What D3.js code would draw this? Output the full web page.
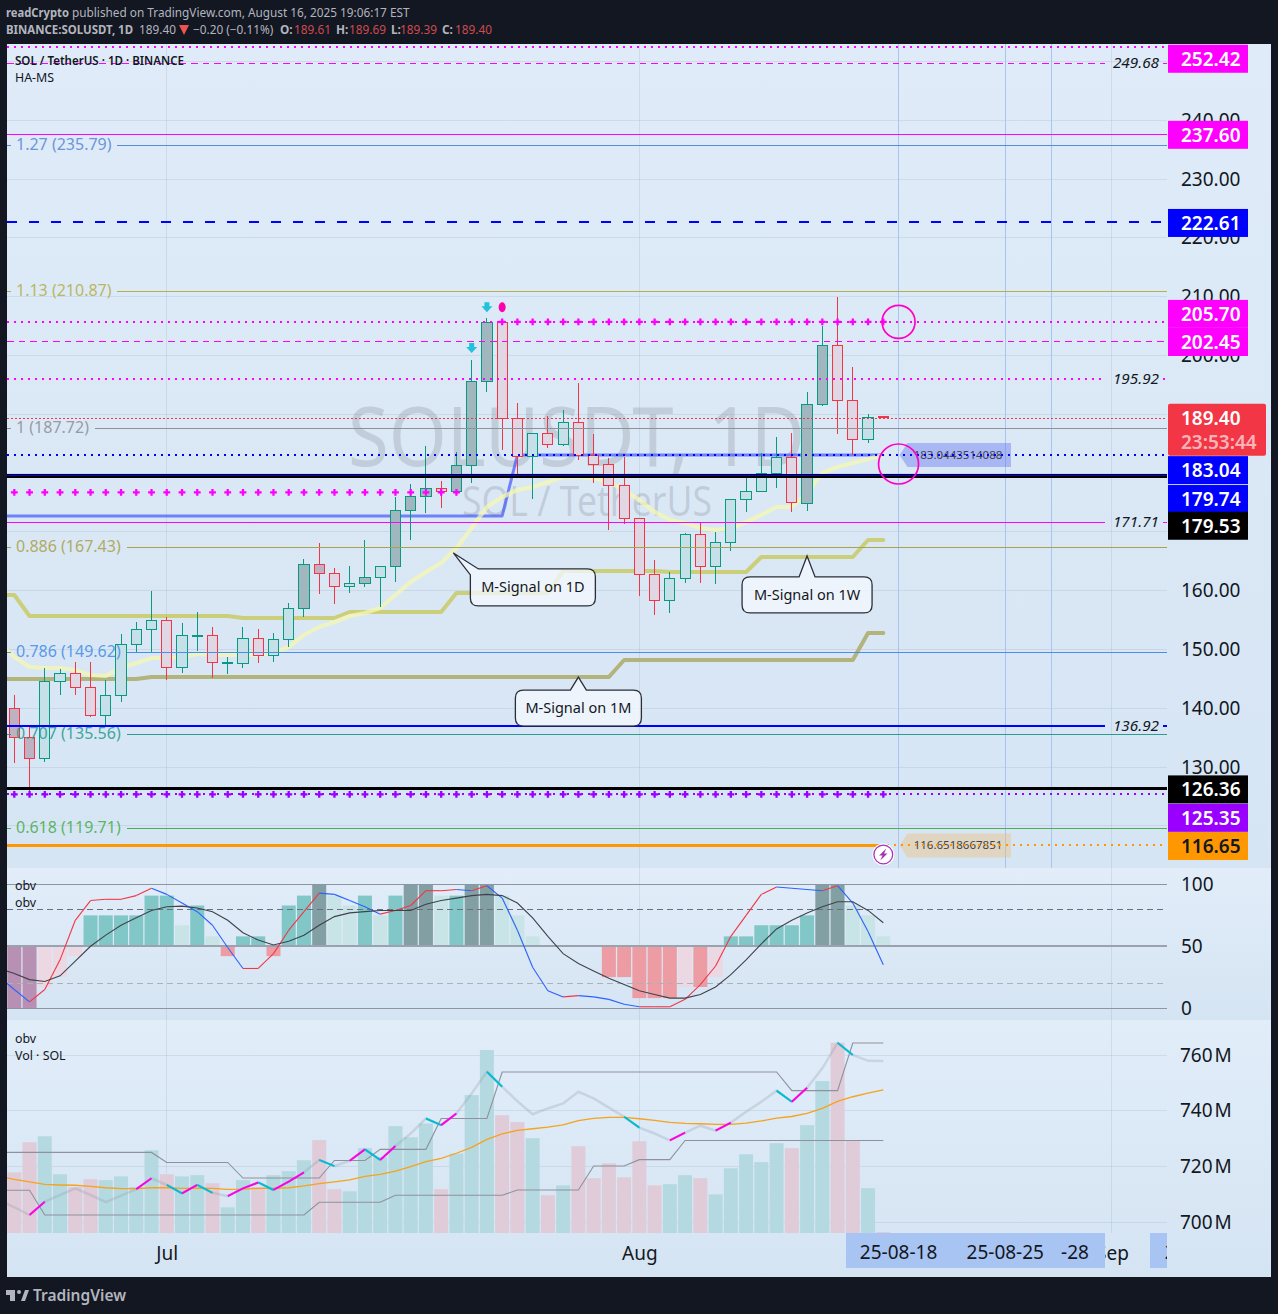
<!DOCTYPE html>
<html>
<head>
<meta charset="utf-8">
<script src="https://cdnjs.cloudflare.com/ajax/libs/d3/7.8.5/d3.min.js"></script>
<style>
html, body { margin: 0; padding: 0; background: #131722; }
svg { display: block; font-family: "Noto Sans", sans-serif; }
</style>
</head>
<body>
<div id="chart"></div>
<script>
// candle data, index 0 = first visible day
var opens = [140.03,135.10,131.53,144.46,145.82,143.44,138.84,142.08,150.75,153.30,154.83,146.84,152.28,152.28,147.69,147.52,151.77,148.88,151.60,157.04,164.36,162.83,160.62,161.13,162.15,164.02,173.54,175.92,177.28,176.77,181.36,195.63,205.68,189.35,182.89,186.80,184.93,188.67,183.06,181.53,177.79,172.18,162.66,158.40,161.98,169.46,164.02,168.10,175.41,176.77,180.00,182.72,174.73,191.73,201.60,192.41,185.78,189.61];
var highs = [142.25,137.14,146.84,146.67,147.86,147.86,144.80,152.62,154.66,159.93,155.51,154.49,156.36,153.81,148.71,153.81,153.47,152.79,157.89,165.38,168.11,163.85,164.19,168.61,164.19,175.92,178.13,184.59,178.64,183.57,199.20,206.36,205.68,191.90,186.80,189.69,190.71,195.30,186.63,182.55,182.72,172.18,165.21,163.17,169.80,171.50,169.97,175.41,179.66,183.40,186.12,186.80,193.77,205.00,209.93,198.04,190.03,189.69];
var lows = [130.68,125.24,130.85,142.25,142.25,138.50,137.14,141.05,149.39,149.56,144.80,145.99,149.73,145.14,145.82,146.84,147.69,147.86,150.41,155.51,159.43,157.72,159.60,160.62,157.21,161.47,168.61,173.20,174.05,176.43,178.30,193.77,183.90,179.15,175.58,184.25,184.59,182.21,178.30,170.30,171.33,159.09,155.85,156.19,161.30,161.30,161.13,166.74,173.37,176.77,177.45,173.37,173.54,191.39,186.63,183.06,185.10,189.39];
var closes = [135.10,131.53,144.46,145.82,143.44,138.84,142.08,150.75,153.30,154.83,146.84,152.28,152.28,147.69,147.69,151.77,148.88,151.60,157.04,164.36,162.83,160.62,161.13,162.15,164.02,173.54,175.92,177.28,176.77,181.36,195.63,205.68,189.35,182.89,186.80,184.93,188.67,183.06,181.53,177.79,172.18,162.66,158.40,161.98,169.46,164.02,168.10,175.41,176.77,180.00,182.72,174.90,191.73,201.60,192.41,185.78,189.52,189.40];
var heavyCandles = [0,1,19,20,23,25,26,27,29,30,31,52,53];

// M-Signal lines and the others below start one day before the first candle
var signal1D = [151.09,148.71,147.01,146.84,146.84,146.50,145.65,145.48,146.84,147.69,148.54,148.54,148.71,149.22,149.05,149.05,149.05,149.05,149.39,150.41,152.45,153.81,154.66,155.68,156.19,157.04,159.25,161.47,163.17,164.70,167.25,170.65,174.22,175.92,177.11,177.62,178.47,179.32,179.32,179.15,178.47,177.11,175.41,173.37,172.01,171.50,170.65,170.31,170.65,171.67,172.86,174.22,174.22,176.60,180.00,181.02,181.70,182.38,183.06];
var signal1W = [159.25,159.25,155.68,155.68,155.68,155.68,155.68,155.68,155.68,155.68,155.68,155.68,155.68,155.68,155.68,155.68,155.34,155.34,155.34,155.34,155.34,155.34,155.34,156.36,156.36,156.36,156.36,156.36,156.36,156.36,159.60,159.60,159.60,159.60,159.60,159.60,159.60,163.34,163.34,163.34,163.34,163.34,163.34,163.34,163.17,163.17,163.17,163.17,163.17,163.17,165.72,165.72,165.72,165.72,165.72,165.72,165.72,168.61,168.61];
var signal1M = [144.97,144.97,144.97,144.97,144.97,144.97,144.97,144.97,144.97,144.97,145.31,145.31,145.31,145.31,145.31,145.31,145.31,145.31,145.31,145.31,145.31,145.31,145.31,145.31,145.31,145.31,145.31,145.31,145.31,145.31,145.31,145.31,145.31,145.31,145.31,145.31,145.31,145.31,145.31,145.31,145.31,148.20,148.20,148.20,148.20,148.20,148.20,148.20,148.20,148.20,148.20,148.20,148.20,148.20,148.20,148.20,148.20,152.79,152.79];
var stepLine = [172.69,172.69,172.69,172.69,172.69,172.69,172.69,172.69,172.69,172.69,172.69,172.69,172.69,172.69,172.69,172.69,172.69,172.69,172.69,172.69,172.69,172.69,172.69,172.69,172.69,172.69,172.69,172.69,172.69,172.69,172.69,172.69,172.69,172.69,183.06,183.06,183.06,183.06,183.06,183.06,183.06,183.06,183.06,183.06,183.06,183.06,183.06,183.06,183.06,183.06,183.06,183.06,183.06,183.06,183.06,183.06,183.06,183.06,183.06];

// horizontal levels
var fibRatios = ["1.27","1.13","1","0.886","0.786","0.707","0.618"];
var fibPrices = [235.79,210.87,187.72,167.43,149.62,135.56,119.71];
var dottedMagenta = [252.42,205.70,195.92];
var dashedMagenta = [249.68,202.45];
var solidMagenta = [237.60,171.71];
var labelledLevels = [249.68,195.92,171.71,136.92];
var blueDashed = 222.61, lastClose = 189.40, blueDotted = 183.04, blueSolid = 179.74, blackUpper = 179.53;
var blueLow = 136.92, blackLow = 126.36, purpleDotted = 125.35, orangeLevel = 116.65;
var plusLevel = 176.70;
var priceGrid = [250,240,230,220,210,200,190,180,170,160,150,140,130,120];
var priceTicks = [240,230,220,210,200,160,150,140,130];

// oscillator pane
var oscBars = [0,0,17,25,42,75,75,75,75,91,91,67,83,58,42,58,58,42,83,91,100,91,83,91,75,91,100,100,91,91,100,100,91,75,58,50,50,50,50,25,25,8,8,8,17,17,25,58,58,67,67,67,75,100,100,83,75,58];
var oscKinds = [2,2,0,0,0,1,1,1,1,1,1,0,1,0,1,1,1,1,1,1,2,0,0,1,0,1,2,2,0,1,2,2,0,0,0,0,0,0,0,1,1,1,1,1,0,1,0,1,1,1,1,1,1,2,2,0,0,0];
var oscFast = [25,15,5,15,39,71,87,88,88,91,97,92,85,78,67,49,32,32,44,63,78,93,92,87,82,76,79,83,95,95,96,95,99,89,63,33,14,9,10,9,7,3,1,1,1,7,19,34,58,75,92,98,97,96,95,99,85,62,35];
var oscSlow = [32,28,23,21.5,26,38,50,59,67,73,79,82,82.5,81,78,71,61,55,51,54,59,67,74,77,78,79,79,79,84,87,89,91,92,91,85,73,58,44,36,30,24,19,14,11,8,8,11,17,27,39,52,64,71,77,82,86,86,79,69];
var oscTicks = [100,50,0];

// volume pane
var volumes = [2.56,3.83,4.08,2.48,1.94,2.27,2.23,2.39,1.94,3.49,2.48,2.39,2.44,2.10,1.08,2.23,1.94,2.44,2.61,3.07,3.92,1.85,1.76,3.58,3.20,4.51,4.04,4.62,1.85,3.35,5.82,7.72,4.97,4.68,4.00,1.59,2.01,3.66,2.31,2.94,2.35,3.87,2.01,2.06,2.44,2.31,1.63,2.73,3.32,2.99,3.79,3.58,4.55,6.41,8.03,3.92,1.89,0.04];
var obvLine = [707.9,705.3,702.5,707.3,709.7,712.1,709.7,707.1,709.5,711.8,715.7,713.3,710.3,713.3,710.5,709.3,712.1,714.2,711.5,714.5,717.8,722.3,720.1,722.0,726.1,722.3,727.3,731.8,737.2,734.8,739.0,746.2,754.0,748.6,743.4,738.7,740.8,742.6,746.8,744.4,741.1,737.8,733.9,731.8,729.3,732.1,734.6,732.8,735.7,739.6,743.2,747.2,743.2,748.2,755.2,764.4,760.0,757.9,757.8];
var obvUpper = [725.0,725.0,725.0,725.0,725.0,725.0,725.0,725.0,725.0,725.0,725.0,721.4,721.4,721.4,721.4,721.4,715.8,715.8,715.8,715.8,715.8,715.8,722.1,722.1,722.1,726.1,726.1,726.1,726.1,737.2,737.2,737.2,737.2,753.9,753.9,753.9,753.9,753.9,753.9,753.9,753.9,753.9,753.9,753.9,753.9,753.9,753.9,753.9,753.9,753.9,753.9,753.9,747.2,747.2,747.2,747.2,764.3,764.3,764.3];
var obvLower = [711.4,711.4,711.4,702.5,702.5,702.5,702.5,702.5,702.5,702.5,702.5,702.5,702.5,702.5,702.5,702.5,702.5,702.5,702.5,702.5,702.5,707.1,707.1,707.1,707.1,707.1,709.6,709.6,709.6,709.6,709.6,709.6,709.6,709.6,711.5,711.5,711.5,711.5,711.5,720.1,720.1,720.1,722.4,722.4,722.4,729.3,729.3,729.3,729.3,729.3,729.3,729.3,729.3,729.3,729.3,729.3,729.3,729.3,729.3];
var obvAverage = [716.5,715.3,714.4,713.5,713.3,713.2,712.8,712.3,712.0,712.0,712.3,712.3,712.1,712.2,712.1,711.7,711.8,712.1,712.1,712.3,713.0,713.8,714.4,715.1,716.4,717.1,718.3,719.9,721.7,722.9,724.7,726.8,729.7,731.7,732.9,733.5,734.1,734.9,736.4,737.2,737.6,737.6,737.1,736.5,735.8,735.4,735.3,735.1,735.1,735.5,736.3,737.3,737.9,739.0,740.8,743.3,745.0,746.3,747.5];
var obvHighlights = [[1,2],[8,9],[10,11],[11,12],[12,13],[14,16],[16,17],[17,19],[20,21],[22,23],[23,24],[24,25],[27,28],[28,29],[31,32],[40,41],[43,44],[46,47],[50,51],[51,52],[54,55]];
var obvTicks = [760,740,720,700];

// time axis
var monthDays = [10,41,72];
var monthLabels = ["Jul","Aug","Sep"];
var markedDays = [78,68,65,58];
var markedLabels = ["25-09-07","-28","25-08-25","25-08-18"];

var totalWidth = 1278,
    totalHeight = 1314,
    left = 7,
    right = 1167,
    paneRight = 1271;

var x = d3.scaleLinear().domain([0, 57]).range([14.3, 883.3]);
var y = d3.scaleLinear().domain([230, 130]).range([179, 767]);
var yOsc = d3.scaleLinear().domain([100, 0]).range([884.5, 1008]);
var yObv = d3.scaleLinear().domain([760, 700]).range([1055, 1222]);
var yVol = d3.scaleLinear().domain([0, 8.03]).range([1233, 1042.7]);

var svg = d3.select("#chart").append("svg")
    .attr("width", totalWidth)
    .attr("height", totalHeight);

var defs = svg.append("defs");

function gradient(id, top, bottom) {
  var g = defs.append("linearGradient").attr("id", id)
      .attr("x1", 0).attr("x2", 0).attr("y1", 0).attr("y2", 1);
  g.append("stop").attr("offset", "0%").attr("stop-color", top);
  g.append("stop").attr("offset", "100%").attr("stop-color", bottom);
}
gradient("mainBg", "#dfebf8", "#d6e5f4");
gradient("oscBg", "#e2edf9", "#d5e4f3");
gradient("volBg", "#e1edf9", "#d5e4f3");

defs.append("clipPath").attr("id", "plot")
  .append("rect").attr("x", left).attr("y", 44).attr("width", right - left).attr("height", 1233 - 44);
defs.append("clipPath").attr("id", "timeClip")
  .append("rect").attr("x", left).attr("y", 1233).attr("width", right - left).attr("height", 44);

svg.append("rect").attr("width", totalWidth).attr("height", totalHeight).attr("fill", "#131722");
svg.append("rect").attr("x", left).attr("y", 44).attr("width", paneRight - left).attr("height", 824).attr("fill", "url(#mainBg)");
svg.append("rect").attr("x", left).attr("y", 868).attr("width", paneRight - left).attr("height", 152).attr("fill", "url(#oscBg)");
svg.append("rect").attr("x", left).attr("y", 1020).attr("width", paneRight - left).attr("height", 257).attr("fill", "url(#volBg)");

// header
function header(x0, y0, text, color, weight, fit) {
  var t = svg.append("text").attr("x", x0).attr("y", y0).attr("font-size", 11.8)
      .attr("fill", color).attr("font-weight", weight || 400).text(text);
  if (fit) t.attr("textLength", fit).attr("lengthAdjust", "spacingAndGlyphs");
}
var headGray = "#b2b5be", headRed = "#ce4a4f";
header(6, 17, "readCrypto", headGray, 700, 63);
header(72, 17, "published on TradingView.com, August 16, 2025 19:06:17 EST", headGray);
header(6, 34, "BINANCE:SOLUSDT, 1D", headGray, 700, 127);
header(139, 34, "189.40", headGray);
svg.append("path").attr("d", "M179 25H189L184 35Z").attr("fill", "#ef5350");
header(193, 34, "\u22120.20 (\u22120.11%)", headGray);
header(280, 34, "O:", headGray, 700);
header(294, 34, "189.61", headRed);
header(336, 34, "H:", headGray, 700);
header(349, 34, "189.69", headRed);
header(391, 34, "L:", headGray, 700);
header(400, 34, "189.39", headRed);
header(442, 34, "C:", headGray, 700);
header(455, 34, "189.40", headRed);

// grid
var gridColor = "rgba(120,135,160,0.16)";
svg.append("g").attr("shape-rendering", "crispEdges").selectAll("line").data(priceGrid).enter().append("line")
    .attr("x1", left).attr("x2", right)
    .attr("y1", function(d) { return y(d); }).attr("y2", function(d) { return y(d); })
    .attr("stroke", gridColor);
svg.append("g").attr("shape-rendering", "crispEdges").selectAll("line").data(obvTicks).enter().append("line")
    .attr("x1", left).attr("x2", right)
    .attr("y1", function(d) { return yObv(d); }).attr("y2", function(d) { return yObv(d); })
    .attr("stroke", gridColor);
svg.append("g").attr("shape-rendering", "crispEdges").selectAll("line").data(monthDays).enter().append("line")
    .attr("x1", function(d) { return x(d); }).attr("x2", function(d) { return x(d); })
    .attr("y1", 44).attr("y2", 1233)
    .attr("stroke", gridColor);

// watermark
svg.append("text").attr("x", 348).attr("y", 466)
    .attr("font-size", 83).attr("fill", "rgba(120,123,134,0.25)")
    .attr("textLength", 457).attr("lengthAdjust", "spacingAndGlyphs").text("SOLUSDT, 1D");
svg.append("text").attr("x", 462).attr("y", 516)
    .attr("font-size", 41).attr("fill", "rgba(120,123,134,0.25)")
    .attr("textLength", 250).attr("lengthAdjust", "spacingAndGlyphs").text("SOL / TetherUS");

// vertical date lines
svg.append("g").attr("shape-rendering", "crispEdges").selectAll("line").data(markedDays.slice(1)).enter().append("line")
    .attr("x1", function(d) { return x(d); }).attr("x2", function(d) { return x(d); })
    .attr("y1", 44).attr("y2", 868)
    .attr("stroke", "#a8c4f0");

var plot = svg.append("g").attr("clip-path", "url(#plot)");

// value tags sit under the level lines
function tag(price, text, fill) {
  var c = y(price);
  plot.append("path")
      .attr("d", "M" + (x(58) + 1) + " " + c + "L" + (x(58) + 9) + " " + (c - 12) + "H1011V" + (c + 12) + "H" + (x(58) + 9) + "Z")
      .attr("fill", fill);
  plot.append("text").attr("x", 958).attr("y", c + 4).attr("text-anchor", "middle")
      .attr("font-size", 11.5).attr("fill", "#3d4250").text(text);
}
tag(blueDotted, "183.0443514088", "rgba(100,115,240,0.42)");
tag(orangeLevel, "116.6518667851", "rgba(235,190,120,0.42)");

// M-Signal lines
function series(values, scale) {
  return d3.line()
      .x(function(d, i) { return x(i - 1); })
      .y(function(d) { return scale(d); })(values);
}
function signalLine(values, color, width) {
  plot.append("path").attr("d", series(values, y))
      .attr("fill", "none").attr("stroke", color).attr("stroke-width", width)
      .attr("stroke-linejoin", "round").attr("stroke-linecap", "round");
}
signalLine(signal1M, "#b3b37c", 4);
signalLine(signal1W, "rgba(196,196,70,0.7)", 4);
signalLine(stepLine, "rgba(70,90,250,0.72)", 3);
signalLine(signal1D, "rgba(246,248,175,0.72)", 4.2);

// candles
var candle = plot.selectAll(".candle")
    .data(d3.range(opens.length))
  .enter().append("g")
    .attr("class", "candle")
    .attr("shape-rendering", "crispEdges");

function candleColor(i) { return closes[i] >= opens[i] ? "#089981" : "#f23645"; }
function candleFill(i) {
  var heavy = heavyCandles.indexOf(i) >= 0;
  if (closes[i] >= opens[i]) return heavy ? "#a1b7bf" : "#c5e0e8";
  return heavy ? "#bdb1c2" : "#e0d6e4";
}

candle.append("line")
    .attr("x1", function(i) { return x(i); }).attr("x2", function(i) { return x(i); })
    .attr("y1", function(i) { return y(highs[i]); }).attr("y2", function(i) { return y(lows[i]); })
    .attr("stroke", candleColor).attr("stroke-width", 1);

candle.append("rect")
    .attr("x", function(i) { return x(i) - 5.1; })
    .attr("width", 10.2)
    .attr("y", function(i) { return y(Math.max(opens[i], closes[i])); })
    .attr("height", function(i) { return Math.max(0.4, Math.abs(y(opens[i]) - y(closes[i]))); })
    .attr("fill", candleFill).attr("stroke", candleColor).attr("stroke-width", 1);

// levels, snapped to whole pixel rows like the platform does
function snap(v, width) {
  return width % 2 ? Math.round(v) + 0.5 : Math.round(v);
}
function level(price, color, width, dash, x0, x1) {
  var c = snap(y(price), width);
  plot.append("line")
      .attr("x1", x0 === undefined ? left : x0).attr("x2", x1 === undefined ? right : x1)
      .attr("y1", c).attr("y2", c)
      .attr("stroke", color).attr("stroke-width", width)
      .attr("stroke-dasharray", dash || null)
      .attr("shape-rendering", "crispEdges");
}
function cutLevel(price, color, width, dash) {
  if (labelledLevels.indexOf(price) >= 0) {
    level(price, color, width, dash, left, 1105);
    level(price, color, width, dash, 1163, right);
  } else {
    level(price, color, width, dash);
  }
}
var fibColors = ["#5b8ad6","#b8af4b","#8f9198","#aba24e","#4a8fe7","#2a9d8f","#4caf50"];
var fibStarts = [117,117,95,127,127,127,127];
fibPrices.forEach(function(p, i) {
  level(p, fibColors[i], 1, null, left, 11);
  level(p, fibColors[i], 1, null, fibStarts[i], right);
  plot.append("text").attr("x", 16).attr("y", y(p) + 5).attr("font-size", 16)
      .attr("fill", fibColors[i]).attr("fill-opacity", 0.9)
      .text(fibRatios[i] + " (" + p.toFixed(2) + ")");
});

dottedMagenta.forEach(function(p) { cutLevel(p, "#ff00ff", 2, "2 5"); });
dashedMagenta.forEach(function(p) { cutLevel(p, "#ff00ff", 1, "6.5 5"); });
solidMagenta.forEach(function(p) { cutLevel(p, "#ff00ff", 1); });
level(blueDashed, "#0000ff", 2, "10 12");
level(lastClose, "#f23645", 1, "1.5 2.5");
level(blueDotted, "#0000ff", 2, "2 5");
level(blackUpper, "#000000", 4);
level(blueSolid, "#0000ff", 1);
cutLevel(blueLow, "#0000ff", 2);
level(blackLow, "#000000", 3);
level(purpleDotted, "#9900ff", 2, "2 5");
level(orangeLevel, "#ff9800", 3, null, left, 880);
level(orangeLevel, "#ff9800", 2, "2 5", 880, right);

labelledLevels.forEach(function(p) {
  plot.append("text").attr("x", 1159).attr("y", y(p) + 5).attr("text-anchor", "end")
      .attr("font-size", 15.3).attr("font-style", "italic").attr("fill", "#131722")
      .text(p.toFixed(2));
});

// plus markers along the levels
var plus = d3.symbol().type(d3.symbolCross).size(26);
function plusRow(days, price, color) {
  plot.append("g").selectAll("path").data(days).enter().append("path")
      .attr("d", plus)
      .attr("transform", function(d) { return "translate(" + x(d) + "," + y(price) + ")"; })
      .attr("fill", color);
}
plusRow(d3.range(0, 30), plusLevel, "#ff00ff");
plusRow(d3.range(32, 58), 205.70, "#ff00ff");
plusRow(d3.range(0, 58), purpleDotted, "#9900ff");

// signal arrows above candles
function downArrow(day, price) {
  var cx = x(day), cy = y(price);
  plot.append("path")
      .attr("d", "M" + (cx - 2.5) + " " + (cy - 5) + "h5v4h3l-5.5 6l-5.5 -6h3z")
      .attr("fill", "#22c1dc");
}
downArrow(30, 201.26);
downArrow(31, 208.2);
plot.append("ellipse").attr("cx", x(32)).attr("cy", y(208.2)).attr("rx", 3.5).attr("ry", 5).attr("fill", "#ff00aa");

// circles at the coming date
plot.append("circle").attr("cx", x(58)).attr("cy", y(205.70)).attr("r", 16.5)
    .attr("fill", "none").attr("stroke", "#ff00c8").attr("stroke-width", 1.7);
plot.append("circle").attr("cx", x(58)).attr("cy", y(181.53)).attr("r", 20)
    .attr("fill", "none").attr("stroke", "#ff00c8").attr("stroke-width", 1.7);

// lightning badge
var bolt = plot.append("g").attr("transform", "translate(" + x(57) + "," + (y(orangeLevel) + 9) + ")");
bolt.append("circle").attr("r", 11).attr("fill", "#ffffff");
bolt.append("circle").attr("r", 9.4).attr("fill", "#ffffff").attr("stroke", "#a733b5").attr("stroke-width", 1.3);
bolt.append("path").attr("d", "M3 -6L-4.2 1H-0.8L-3 6L4.2 -1H0.8Z").attr("fill", "#a733b5");

// callouts
function callout(day, price, text, dx, dy, w, h, corner) {
  var tx = x(day), ty = y(price), x0 = tx + dx, y0 = ty + dy, r = 8;
  var d = "M" + tx + " " + ty;
  if (corner) {
    d += "L" + (x0 + r) + " " + y0;
  } else {
    d += "L" + (tx + 8) + " " + y0;
  }
  d += "H" + (x0 + w - r) + "Q" + (x0 + w) + " " + y0 + " " + (x0 + w) + " " + (y0 + r);
  d += "V" + (y0 + h - r) + "Q" + (x0 + w) + " " + (y0 + h) + " " + (x0 + w - r) + " " + (y0 + h);
  d += "H" + (x0 + r) + "Q" + x0 + " " + (y0 + h) + " " + x0 + " " + (y0 + h - r);
  if (corner) {
    d += "V" + (y0 + r - 2) + "Z";
  } else {
    d += "V" + (y0 + r) + "Q" + x0 + " " + y0 + " " + (x0 + r) + " " + y0 + "H" + (tx - 8) + "Z";
  }
  plot.append("path").attr("d", d)
      .attr("fill", "rgba(243,247,252,0.78)").attr("stroke", "#2a2e39").attr("stroke-width", 1.3);
  plot.append("text").attr("x", x0 + w / 2).attr("y", y0 + h / 2 + 5).attr("text-anchor", "middle")
      .attr("font-size", 14.5).attr("fill", "#131722").text(text);
}
callout(28.8, 166.4, "M-Signal on 1D", 17, 16, 125, 37, true);
callout(52, 165.9, "M-Signal on 1W", -65, 21, 130, 36);
callout(37, 145.3, "M-Signal on 1M", -63, 13, 126, 36);

// legend
plot.append("text").attr("x", 15).attr("y", 65).attr("font-size", 12.4).attr("font-weight", 600).attr("fill", "#131722")
    .attr("textLength", 169).attr("lengthAdjust", "spacingAndGlyphs")
    .text("SOL / TetherUS \u00b7 1D \u00b7 BINANCE");
plot.append("text").attr("x", 15).attr("y", 82).attr("font-size", 12.4).attr("fill", "#131722").text("HA-MS");

// oscillator pane
var oscPane = svg.append("g").attr("clip-path", "url(#plot)");
function oscColor(i) {
  var up = oscBars[i] >= 50, k = oscKinds[i];
  if (k === 2) return up ? "#829fa3" : "#b790b3";
  if (k === 1) return up ? "#81c7c7" : "#ee9ca3";
  return up ? "#c8e4e6" : "#ecd8e2";
}
oscPane.selectAll(".oscbar").data(d3.range(oscBars.length)).enter().append("rect")
    .attr("class", "oscbar")
    .attr("x", function(i) { return x(i) - 7; })
    .attr("width", 14)
    .attr("y", function(i) { return Math.min(yOsc(oscBars[i]), yOsc(50)); })
    .attr("height", function(i) { return Math.abs(yOsc(oscBars[i]) - yOsc(50)); })
    .attr("fill", oscColor);

function oscRule(v, color, width, dash) {
  oscPane.append("line").attr("x1", left).attr("x2", right)
      .attr("y1", yOsc(v)).attr("y2", yOsc(v))
      .attr("stroke", color).attr("stroke-width", width)
      .attr("stroke-dasharray", dash || null)
      .attr("shape-rendering", "crispEdges");
}
oscRule(100, "#8d95a3", 1);
oscRule(80, "#6b7078", 1, "6 4");
oscRule(50, "#9aa2ad", 2);
oscRule(20, "#aab1bb", 1, "6 4");
oscRule(0, "#8d95a3", 1);

oscFast.slice(1).forEach(function(v, i) {
  oscPane.append("line")
      .attr("x1", x(i - 1)).attr("y1", yOsc(oscFast[i]))
      .attr("x2", x(i)).attr("y2", yOsc(v))
      .attr("stroke", v >= oscFast[i] ? "#f23645" : "#2962ff").attr("stroke-width", 1.1);
});
oscPane.append("path").attr("d", series(oscSlow, yOsc))
    .attr("fill", "none").attr("stroke", "#3f4349").attr("stroke-width", 1.1);

svg.append("text").attr("x", 15).attr("y", 890).attr("font-size", 12.4).attr("fill", "#131722").text("obv");
svg.append("text").attr("x", 15).attr("y", 907).attr("font-size", 12.4).attr("fill", "#131722").text("obv");

// volume pane
var volPane = svg.append("g").attr("clip-path", "url(#plot)");
volPane.selectAll(".volbar").data(d3.range(volumes.length)).enter().append("rect")
    .attr("class", "volbar")
    .attr("x", function(i) { return x(i) - 7; })
    .attr("width", 14)
    .attr("y", function(i) { return yVol(volumes[i]); })
    .attr("height", function(i) { return yVol(0) - yVol(volumes[i]); })
    .attr("fill", function(i) { return closes[i] >= opens[i] ? "#b5d9e1" : "#e0cbd8"; });

function obvPath(values, color, width) {
  volPane.append("path").attr("d", series(values, yObv))
      .attr("fill", "none").attr("stroke", color).attr("stroke-width", width);
}
obvPath(obvLine, "rgba(150,160,175,0.3)", 2.5);
obvPath(obvUpper, "#8d929c", 1.1);
obvPath(obvLower, "#8d929c", 1.1);
obvPath(obvAverage, "#f7a21b", 1.3);

obvHighlights.forEach(function(seg) {
  var part = obvLine.slice(seg[0] + 1, seg[1] + 2);
  volPane.append("path")
      .attr("d", d3.line()
        .x(function(d, i) { return x(seg[0] + i); })
        .y(function(d) { return yObv(d); })(part))
      .attr("fill", "none").attr("stroke-width", 2)
      .attr("stroke", part[part.length - 1] >= part[0] ? "#ff00e6" : "#00bcd4");
});

svg.append("text").attr("x", 15).attr("y", 1043).attr("font-size", 12.4).attr("fill", "#131722").text("obv");
svg.append("text").attr("x", 15).attr("y", 1060).attr("font-size", 12.4).attr("fill", "#131722").text("Vol \u00b7 SOL");

// axes
function styleAxis(g) {
  g.select(".domain").remove();
  g.selectAll("text").attr("fill", "#131722").attr("font-size", 19)
      .attr("font-family", "'Noto Sans', sans-serif");
}
svg.append("g").attr("transform", "translate(1181,0)")
    .call(d3.axisRight(y).tickValues(priceTicks).tickSize(0).tickPadding(0).tickFormat(d3.format(".2f")))
    .call(styleAxis);
svg.append("g").attr("transform", "translate(1181,0)")
    .call(d3.axisRight(yOsc).tickValues(oscTicks).tickSize(0).tickPadding(0))
    .call(styleAxis);
svg.append("g").attr("transform", "translate(1180,0)")
    .call(d3.axisRight(yObv).tickValues(obvTicks).tickSize(0).tickPadding(0).tickFormat(function(d) { return d + "\u200aM"; }))
    .call(styleAxis);

// time axis, marked dates laid over the month names
var timeAxis = svg.append("g").attr("clip-path", "url(#timeClip)");
timeAxis.append("g").attr("transform", "translate(0,1233)")
    .call(d3.axisBottom(x).tickValues(monthDays).tickSize(0).tickPadding(14)
      .tickFormat(function(d, i) { return monthLabels[i]; }))
    .call(styleAxis);
markedDays.forEach(function(d, i) {
  // the later labels get cut off by the earlier ones, only the tail of the 28th shows
  var reach = d === 68 ? 54 : 53;
  var bx = Math.round(x(d) - 53);
  timeAxis.append("rect").attr("x", bx).attr("y", 1233).attr("width", 53 + reach).attr("height", 35).attr("fill", "#a8c4f2");
  timeAxis.append("text").attr("x", d === 68 ? x(d) + 24 : x(d)).attr("y", 1259).attr("text-anchor", "middle")
      .attr("font-size", 19).attr("fill", "#131722").text(markedLabels[i]);
});

// price labels on the scale
function priceBox(price, shift, fill, color, text) {
  var c = y(price) + shift;
  svg.append("rect").attr("x", 1168).attr("y", c - 14).attr("width", 80).attr("height", 28).attr("fill", fill);
  svg.append("text").attr("x", 1181).attr("y", c + 7).attr("font-size", 19).attr("font-weight", 600)
      .attr("fill", color).text(text || price.toFixed(2));
}
priceBox(252.42, 11.6, "#ff00ff", "#ffffff");
priceBox(237.60, 0.5, "#ff00ff", "#ffffff");
priceBox(blueDashed, 0.5, "#0000ff", "#ffffff");
priceBox(205.70, -8, "#ff00ff", "#ffffff");
priceBox(202.45, 1, "#ff00ff", "#ffffff");
priceBox(blueDotted, 15, "#0000ff", "#ffffff");
priceBox(blueSolid, 24.5, "#0000ff", "#ffffff");
priceBox(blackUpper, 50, "#000000", "#ffffff");
priceBox(blackLow, 1, "#000000", "#ffffff");
priceBox(purpleDotted, 23.5, "#9900ff", "#ffffff");
priceBox(orangeLevel, 0.5, "#ff9800", "#131722");

var closeY = y(lastClose);
svg.append("rect").attr("x", 1168).attr("y", closeY - 14).attr("width", 98).attr("height", 52).attr("rx", 2).attr("fill", "#f23645");
svg.append("text").attr("x", 1181).attr("y", closeY + 7).attr("font-size", 19).attr("font-weight", 600).attr("fill", "#ffffff").text(lastClose.toFixed(2));
svg.append("text").attr("x", 1181).attr("y", closeY + 31).attr("font-size", 19).attr("font-weight", 600).attr("fill", "#ffffff").attr("fill-opacity", 0.65).text("23:53:44");

// footer
svg.append("path").attr("d", "M6 1290H15V1301H10V1295H6ZM21 1301L25 1290H29L25 1301Z").attr("fill", "#b2b5be");
svg.append("circle").attr("cx", 19).attr("cy", 1292).attr("r", 2).attr("fill", "#b2b5be");
svg.append("text").attr("x", 33).attr("y", 1301).attr("font-size", 15.5).attr("font-weight", 600).attr("fill", "#b2b5be").text("TradingView");
</script>
</body>
</html>
